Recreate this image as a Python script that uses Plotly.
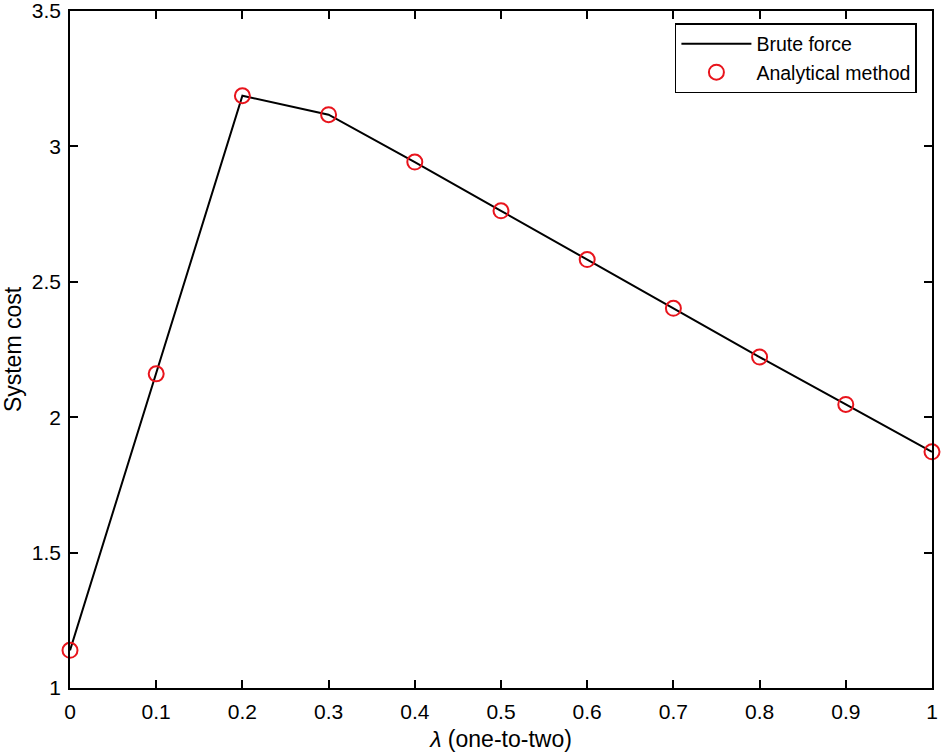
import plotly.graph_objects as go

lam = [0, 0.1, 0.2, 0.3, 0.4, 0.5, 0.6, 0.7, 0.8, 0.9, 1.0]
brute_force = [1.139, 2.160, 3.187, 3.117, 2.942, 2.762, 2.582, 2.402, 2.222, 2.047, 1.872]
analytical = [1.139, 2.160, 3.187, 3.117, 2.942, 2.762, 2.582, 2.402, 2.222, 2.047, 1.872]
xticks = [0, 0.1, 0.2, 0.3, 0.4, 0.5, 0.6, 0.7, 0.8, 0.9, 1]
xticklabels = ["0", "0.1", "0.2", "0.3", "0.4", "0.5", "0.6", "0.7", "0.8", "0.9", "1"]
yticks = [1, 1.5, 2, 2.5, 3, 3.5]
yticklabels = ["1", "1.5", "2", "2.5", "3", "3.5"]

FONT = "Liberation Sans, Arial, Helvetica, sans-serif"

fig = go.Figure()
fig.add_trace(go.Scatter(x=lam, y=brute_force, mode="lines", name="Brute force",
                         line=dict(color="black", width=2), cliponaxis=False))
fig.add_trace(go.Scatter(x=lam, y=analytical, mode="markers", name="Analytical method",
                         marker=dict(symbol="circle-open", size=15, color="#e8141c",
                                     line=dict(width=2, color="#e8141c")),
                         cliponaxis=False))

axis_common = dict(showline=True, linecolor="black", linewidth=1.5, mirror="ticks",
                   ticks="inside", ticklen=8, tickwidth=1.5, tickcolor="black",
                   showgrid=False, zeroline=False, ticklabeloverflow="allow",
                   automargin=False,
                   tickfont=dict(family=FONT, size=21, color="black"))

fig.update_layout(
    width=944, height=756,
    margin=dict(l=69.5, r=11.5, t=11, b=67.5),
    paper_bgcolor="white", plot_bgcolor="white",
    font=dict(family=FONT, color="black"),
    xaxis=dict(range=[0, 1.00001], tickvals=xticks, ticktext=xticklabels,
               ticklabelstandoff=4,
               title=dict(text="<i>λ</i> (one-to-two)", font=dict(family=FONT, size=23), standoff=9),
               **axis_common),
    yaxis=dict(range=[1, 3.50001], tickvals=yticks, ticktext=yticklabels,
               ticklabelstandoff=3,
               title=dict(text="System cost", font=dict(family=FONT, size=23), standoff=8),
               **axis_common),
    legend=dict(x=0.9825, y=0.982, xanchor="right", yanchor="top",
                bordercolor="black", borderwidth=1.5, bgcolor="white",
                font=dict(family=FONT, size=19.5, color="black"),
                itemwidth=70, tracegroupgap=0),
    showlegend=True,
)

fig.write_html("out.html", config={"displayModeBar": False},
               post_script="document.body.style.margin='0';document.body.style.padding='0';")
